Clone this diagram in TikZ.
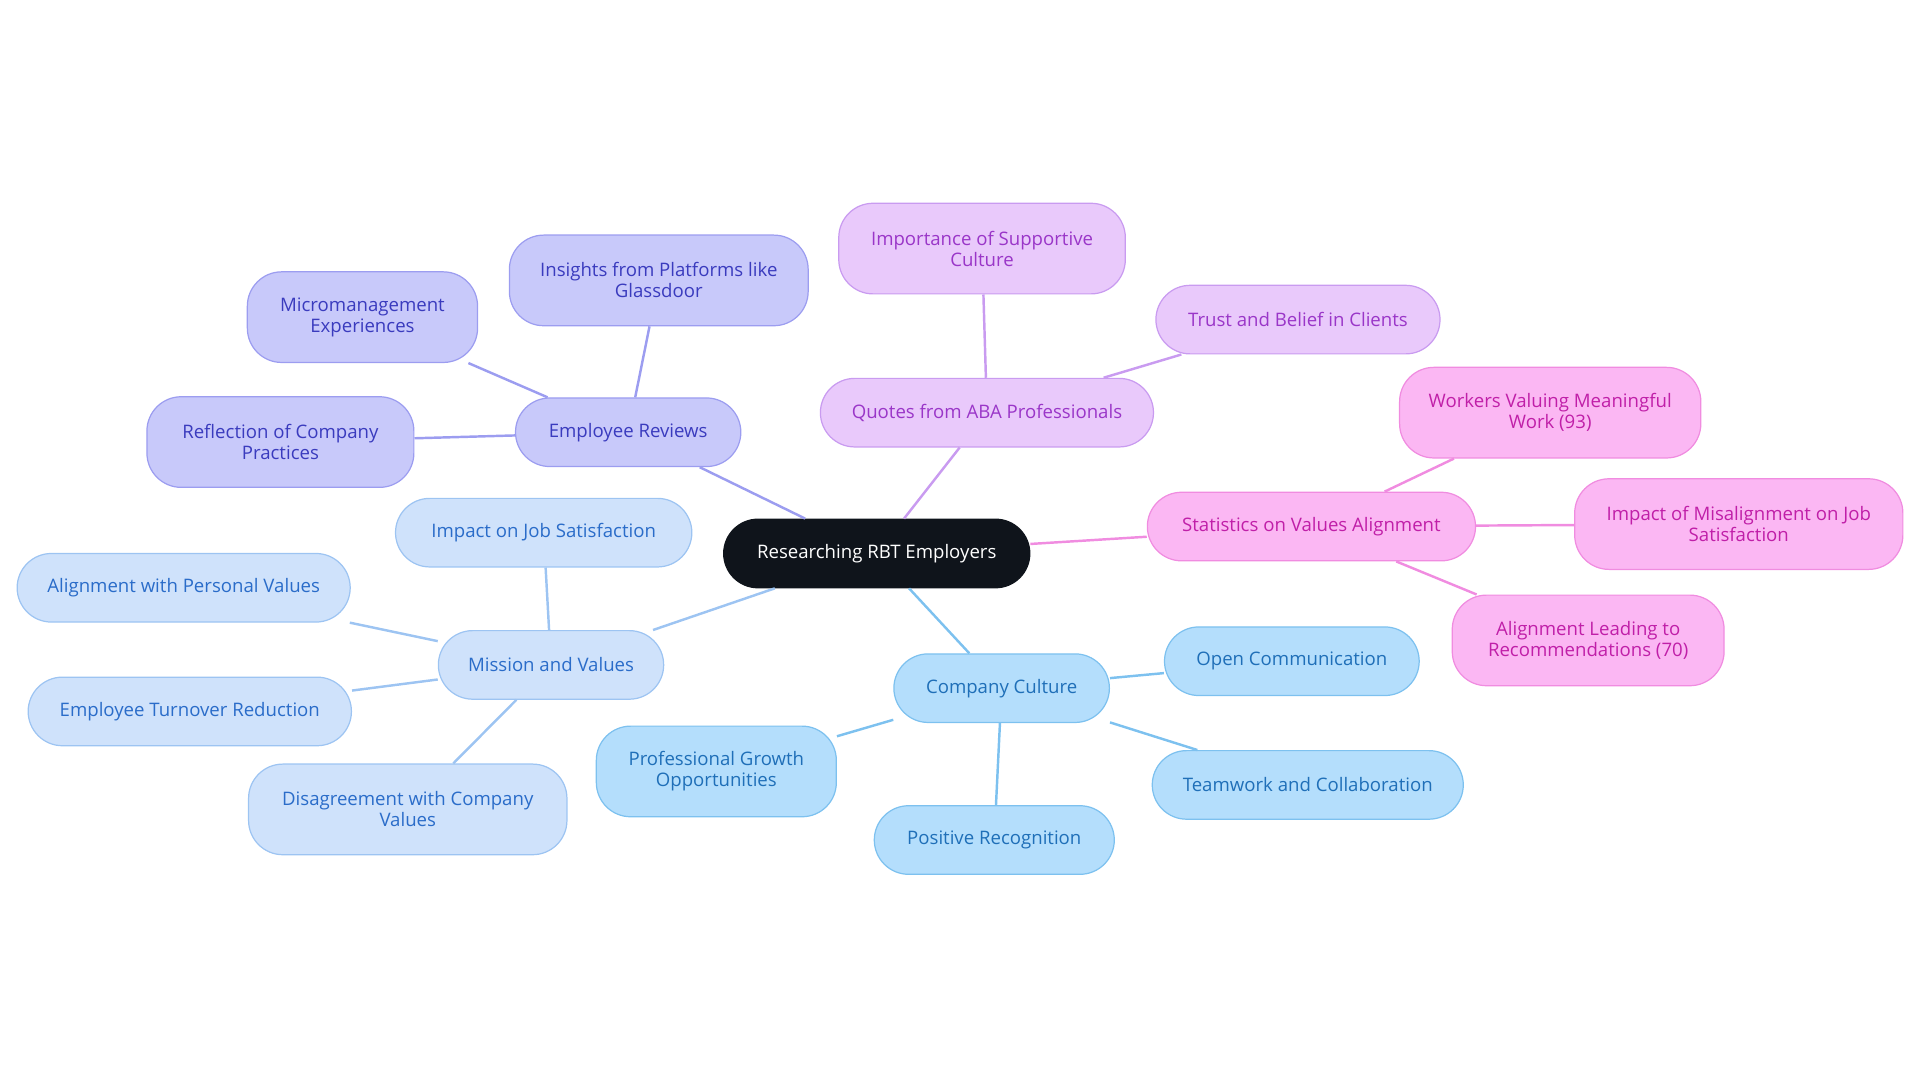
\documentclass[tikz,border=0pt]{standalone}
\usepackage{fontspec}
\setmainfont{Open Sans}
\definecolor{cB}{HTML}{0F141B}
\definecolor{erF}{HTML}{C8C9FA}\definecolor{erD}{HTML}{9C9DF0}\definecolor{erT}{HTML}{3A3BBE}
\definecolor{qF}{HTML}{E9C9FB}\definecolor{qD}{HTML}{C99BF0}\definecolor{qT}{HTML}{9A36C8}
\definecolor{sF}{HTML}{FBB7F3}\definecolor{sD}{HTML}{F08CE0}\definecolor{sT}{HTML}{C01FA8}
\definecolor{mF}{HTML}{CFE2FB}\definecolor{mD}{HTML}{9DC4F2}\definecolor{mT}{HTML}{2A6CC9}
\definecolor{cF}{HTML}{B4DEFC}\definecolor{cD}{HTML}{7DC1EF}\definecolor{cT}{HTML}{1F6FB8}
\tikzset{
 box/.style={rounded corners=14pt,align=center,inner sep=0pt,font=\fontsize{7.6}{8.6}\selectfont,line width=0.5pt},
 er/.style={box,fill=erF,draw=erD,text=erT},
 qq/.style={box,fill=qF,draw=qD,text=qT},
 ss/.style={box,fill=sF,draw=sD,text=sT},
 mm/.style={box,fill=mF,draw=mD,text=mT},
 cc/.style={box,fill=cF,draw=cD,text=cT},
 ln/.style={line width=1pt}
}
\newcommand{\bx}[6]{\node[#1,minimum width=#4*0.5pt,minimum height=#5*0.5pt] (#6) at (#2,#3) {#6txt};}
\begin{document}
\begin{tikzpicture}[x=0.5pt,y=-0.5pt]
\useasboundingbox (0,0) rectangle (1568,884);
\newcommand{\nd}[7]{\node[#1,minimum width=#5*0.5pt,minimum height=#6*0.5pt] (#2) at (#3,#4) {#7};}
\nd{box,fill=cB,draw=cB,text=white}{c}{716}{452}{250}{56}{Researching RBT Employers}
\nd{er}{er}{513}{353}{184}{56}{Employee Reviews}
\nd{er}{er1}{538}{229}{244}{74}{Insights from Platforms like\\Glassdoor}
\nd{er}{er2}{296}{259}{188}{74}{Micromanagement\\Experiences}
\nd{er}{er3}{229}{361}{218}{74}{Reflection of Company\\Practices}
\nd{qq}{q}{806}{337}{272}{56}{Quotes from ABA Professionals}
\nd{qq}{q1}{802}{203}{234}{74}{Importance of Supportive\\Culture}
\nd{qq}{q2}{1060}{261}{232}{56}{Trust and Belief in Clients}
\nd{ss}{s}{1071}{430}{268}{56}{Statistics on Values Alignment}
\nd{ss}{s1}{1266}{337}{246}{74}{Workers Valuing Meaningful\\Work (93)}
\nd{ss}{s2}{1420}{428}{268}{74}{Impact of Misalignment on Job\\Satisfaction}
\nd{ss}{s3}{1297}{523}{222}{74}{Alignment Leading to\\Recommendations (70)}
\nd{cc}{k}{818}{562}{176}{56}{Company Culture}
\nd{cc}{k1}{1055}{540}{208}{56}{Open Communication}
\nd{cc}{k2}{1068}{641}{254}{56}{Teamwork and Collaboration}
\nd{cc}{k3}{812}{686}{196}{56}{Positive Recognition}
\nd{cc}{k4}{585}{630}{196}{74}{Professional Growth\\Opportunities}
\nd{mm}{m}{450}{543}{184}{56}{Mission and Values}
\nd{mm}{m1}{444}{435}{242}{56}{Impact on Job Satisfaction}
\nd{mm}{m2}{150}{480}{272}{56}{Alignment with Personal Values}
\nd{mm}{m3}{155}{581}{264}{56}{Employee Turnover Reduction}
\nd{mm}{m4}{333}{661}{260}{74}{Disagreement with Company\\Values}
\begin{scope}[on background layer/.style={}]
\end{scope}
\begin{scope}[ln]
\draw[erD] (c) -- (er); \foreach \t in {er1,er2,er3} \draw[erD] (er) -- (\t);
\draw[qD] (c) -- (q); \foreach \t in {q1,q2} \draw[qD] (q) -- (\t);
\draw[sD] (c) -- (s); \foreach \t in {s1,s2,s3} \draw[sD] (s) -- (\t);
\draw[cD] (c) -- (k); \foreach \t in {k1,k2,k3,k4} \draw[cD] (k) -- (\t);
\draw[mD] (c) -- (m); \foreach \t in {m1,m2,m3,m4} \draw[mD] (m) -- (\t);
\end{scope}
\end{tikzpicture}
\end{document}
